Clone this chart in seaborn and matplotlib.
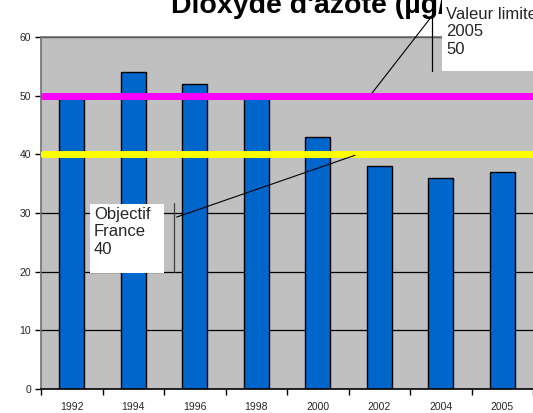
import matplotlib
matplotlib.use("Agg")
import matplotlib.pyplot as plt
import seaborn as sns
import pandas as pd
from matplotlib.lines import Line2D
from matplotlib.patches import Rectangle

# Data
years = ["1992", "1994", "1996", "1998", "2000", "2002", "2004", "2005"]
no2_values = [50, 54, 52, 50, 43, 38, 36, 37]
limit_value = 50      # Valeur limite 2005
target_value = 40     # Objectif France
yticks = [0, 10, 20, 30, 40, 50, 60]

df = pd.DataFrame({"year": years, "no2": no2_values})

sns.set_theme(style="white")
plt.rcParams["font.family"] = ["Liberation Sans", "DejaVu Sans"]

W, H = 533, 413


def fx(px):
    return px / W


def fy(py):
    return 1 - py / H


fig = plt.figure(figsize=(5.33, 4.13), dpi=100)
ax = fig.add_axes([fx(41), fy(389), 1 - fx(41), (389 - 37) / H])
ax.set_facecolor("#C0C0C0")

# Horizontal gridlines
for y in yticks[1:]:
    ax.axhline(y, color="black", lw=0.9, zorder=0.5)

sns.barplot(data=df, x="year", y="no2", color="#0066CC", width=0.4,
            edgecolor="black", linewidth=1.0, saturation=1, ax=ax, zorder=2)

# Reference lines
ax.axhline(limit_value, xmin=0.005, color="#FF00FF", lw=5, zorder=3)
ax.axhline(target_value, xmin=0.005, color="#FFFF00", lw=5, zorder=3)

ax.set_xlim(-0.5, len(years) - 0.5)
ax.set_ylim(0, 60)
ax.set_yticks(yticks)
ax.set_xlabel("")
ax.set_ylabel("")

# x ticks: labels centered, marks between categories
ax.set_xticks(range(len(years)))
ax.set_xticklabels(years)
ax.set_xticks([i - 0.5 for i in range(len(years) + 1)], minor=True)
ax.tick_params(axis="x", which="major", length=0, labelsize=7.5, pad=9)
ax.tick_params(axis="x", which="minor", length=4, width=1, color="black",
               direction="out", bottom=True)
ax.tick_params(axis="y", length=4, width=1, color="black", direction="out",
               labelsize=7.5, left=True, pad=3)

for side in ["left", "top"]:
    ax.spines[side].set_color("#707070")
    ax.spines[side].set_linewidth(1.2)
ax.spines["bottom"].set_color("black")
ax.spines["bottom"].set_linewidth(1.2)
ax.spines["right"].set_visible(False)

# Title (partly clipped at the top and hidden by the callout, as in the reference)
fig.text(fx(171), fy(13), "Dioxyde d'azote (µg/m³)", fontsize=20.5,
         fontweight="bold", ha="left", va="baseline", color="black", zorder=1)

# Callout: Valeur limite 2005
fig.add_artist(Rectangle((fx(442), fy(71)), 1 - fx(442), (71 - 0) / H,
                         transform=fig.transFigure, facecolor="white",
                         edgecolor="none", zorder=4))
fig.text(fx(446), fy(7), "Valeur limite\n2005\n50", fontsize=12,
         ha="left", va="top", linespacing=1.2, zorder=5)
fig.add_artist(Line2D([fx(432), fx(432)], [fy(3), fy(71)],
                      color="black", lw=0.9, transform=fig.transFigure,
                      zorder=5))
ax.annotate("", xy=(4.85, limit_value), xycoords="data",
            xytext=(fx(432), fy(16)), textcoords="figure fraction",
            arrowprops=dict(arrowstyle="-", color="black", lw=0.8),
            annotation_clip=False, zorder=6)

# Callout: Objectif France 40
fig.add_artist(Rectangle((fx(90), fy(273)), (164 - 90) / W, (273 - 204) / H,
                         transform=fig.transFigure, facecolor="white",
                         edgecolor="none", zorder=4))
fig.text(fx(94), fy(207), "Objectif\nFrance\n40", fontsize=12,
         ha="left", va="top", linespacing=1.2, zorder=5)
fig.add_artist(Line2D([fx(174), fx(174)], [fy(203), fy(272)],
                      color="#404040", lw=0.9, transform=fig.transFigure,
                      zorder=5))
ax.annotate("", xy=(4.65, target_value), xycoords="data",
            xytext=(fx(174), fy(218)), textcoords="figure fraction",
            arrowprops=dict(arrowstyle="-", color="black", lw=0.8),
            annotation_clip=False, zorder=6)

fig.savefig("out.png", dpi=100)
